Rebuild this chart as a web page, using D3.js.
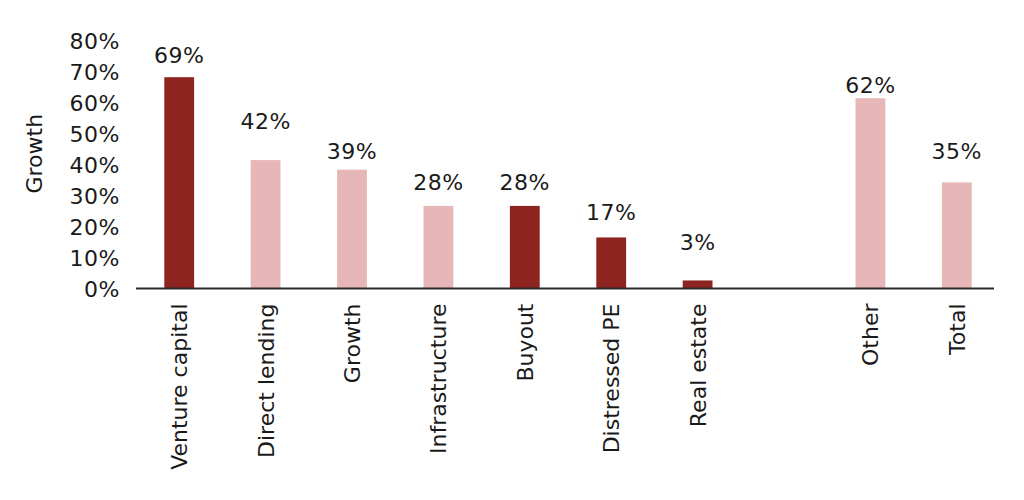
<!DOCTYPE html>
<html>
<head>
<meta charset="utf-8">
<script src="https://cdn.jsdelivr.net/npm/d3@7"></script>
<style>
  html, body { margin: 0; padding: 0; background: #ffffff; }
  svg { display: block; }
  text { font-family: "DejaVu Sans", sans-serif; fill: #1a1a1a; }
</style>
</head>
<body>
<svg id="chart" width="1024" height="500"></svg>
<script>
// ---- data ----
const categories = ["Venture capital", "Direct lending", "Growth", "Infrastructure", "Buyout",
                    "Distressed PE", "Real estate", "", "Other", "Total"];
const values     = [68.3, 41.5, 38.4, 26.7, 26.7, 16.5, 2.6, null, 61.5, 34.3];
const valueLabels = ["69%", "42%", "39%", "28%", "28%", "17%", "3%", "", "62%", "35%"];
const labelAt    = [72.8, 51.7, 41.8, 31.7, 31.7, 22.0, 12.3, null, 63.1, 41.8];
const highlight  = [true, false, false, false, true, true, true, false, false, false];
const yTicks     = [0, 10, 20, 30, 40, 50, 60, 70, 80];
const yTitle     = "Growth";

// ---- layout ----
const svg = d3.select("#chart");
const colorDark = "#8E2420", colorLight = "#E7B6B6";
const FS = "22px";

const x = d3.scaleBand().domain(d3.range(categories.length)).range([136, 1000]).padding(0);
const y = d3.scaleLinear().domain([0, 80]).range([288.5, 41]);
const barW = x.bandwidth() * 0.345;

// y tick labels (no axis line)
const yAxis = d3.axisLeft(y).tickValues(yTicks).tickFormat(d => d + "%").tickSize(0).tickPadding(0);
const gy = svg.append("g").attr("transform", "translate(120,0)").call(yAxis);
gy.select(".domain").remove();
gy.selectAll("text").style("font-size", FS).style("font-family", "DejaVu Sans, sans-serif")
  .attr("fill", "#1a1a1a").attr("dy", "0.36em").style("letter-spacing", "0.5px");

// y title
svg.append("text")
  .attr("transform", `translate(42,${(y(0)+y(80))/2 - 11}) rotate(-90)`)
  .attr("text-anchor", "middle")
  .style("font-size", FS)
  .text(yTitle);

// bars
const idx = d3.range(categories.length).filter(i => values[i] != null);
svg.append("g").selectAll("rect").data(idx).join("rect")
  .attr("x", i => x(i) + (x.bandwidth() - barW) / 2)
  .attr("width", barW)
  .attr("y", i => y(values[i]))
  .attr("height", i => y(0) - y(values[i]))
  .attr("fill", i => highlight[i] ? colorDark : colorLight);

// value labels
svg.append("g").selectAll("text").data(idx).join("text")
  .attr("x", i => x(i) + x.bandwidth() / 2)
  .attr("y", i => y(labelAt[i]))
  .attr("text-anchor", "middle")
  .style("font-size", FS)
  .style("letter-spacing", "0.5px")
  .text(i => valueLabels[i]);

// x axis
const xAxis = d3.axisBottom(x).tickFormat(i => categories[i]).tickSize(0).tickPadding(0);
const gx = svg.append("g").attr("transform", `translate(0,${y(0)})`).call(xAxis);
gx.select(".domain").remove();
gx.selectAll("text")
  .style("font-size", FS).style("font-family", "DejaVu Sans, sans-serif")
  .attr("fill", "#1a1a1a")
  .attr("transform", "rotate(-90)")
  .attr("text-anchor", "end")
  .attr("x", -15).attr("y", 0).attr("dy", "0.36em");

svg.append("line")
  .attr("x1", 136).attr("x2", 994)
  .attr("y1", y(0)).attr("y2", y(0))
  .attr("stroke", "#2b2b2b").attr("stroke-width", 2);
</script>
</body>
</html>
